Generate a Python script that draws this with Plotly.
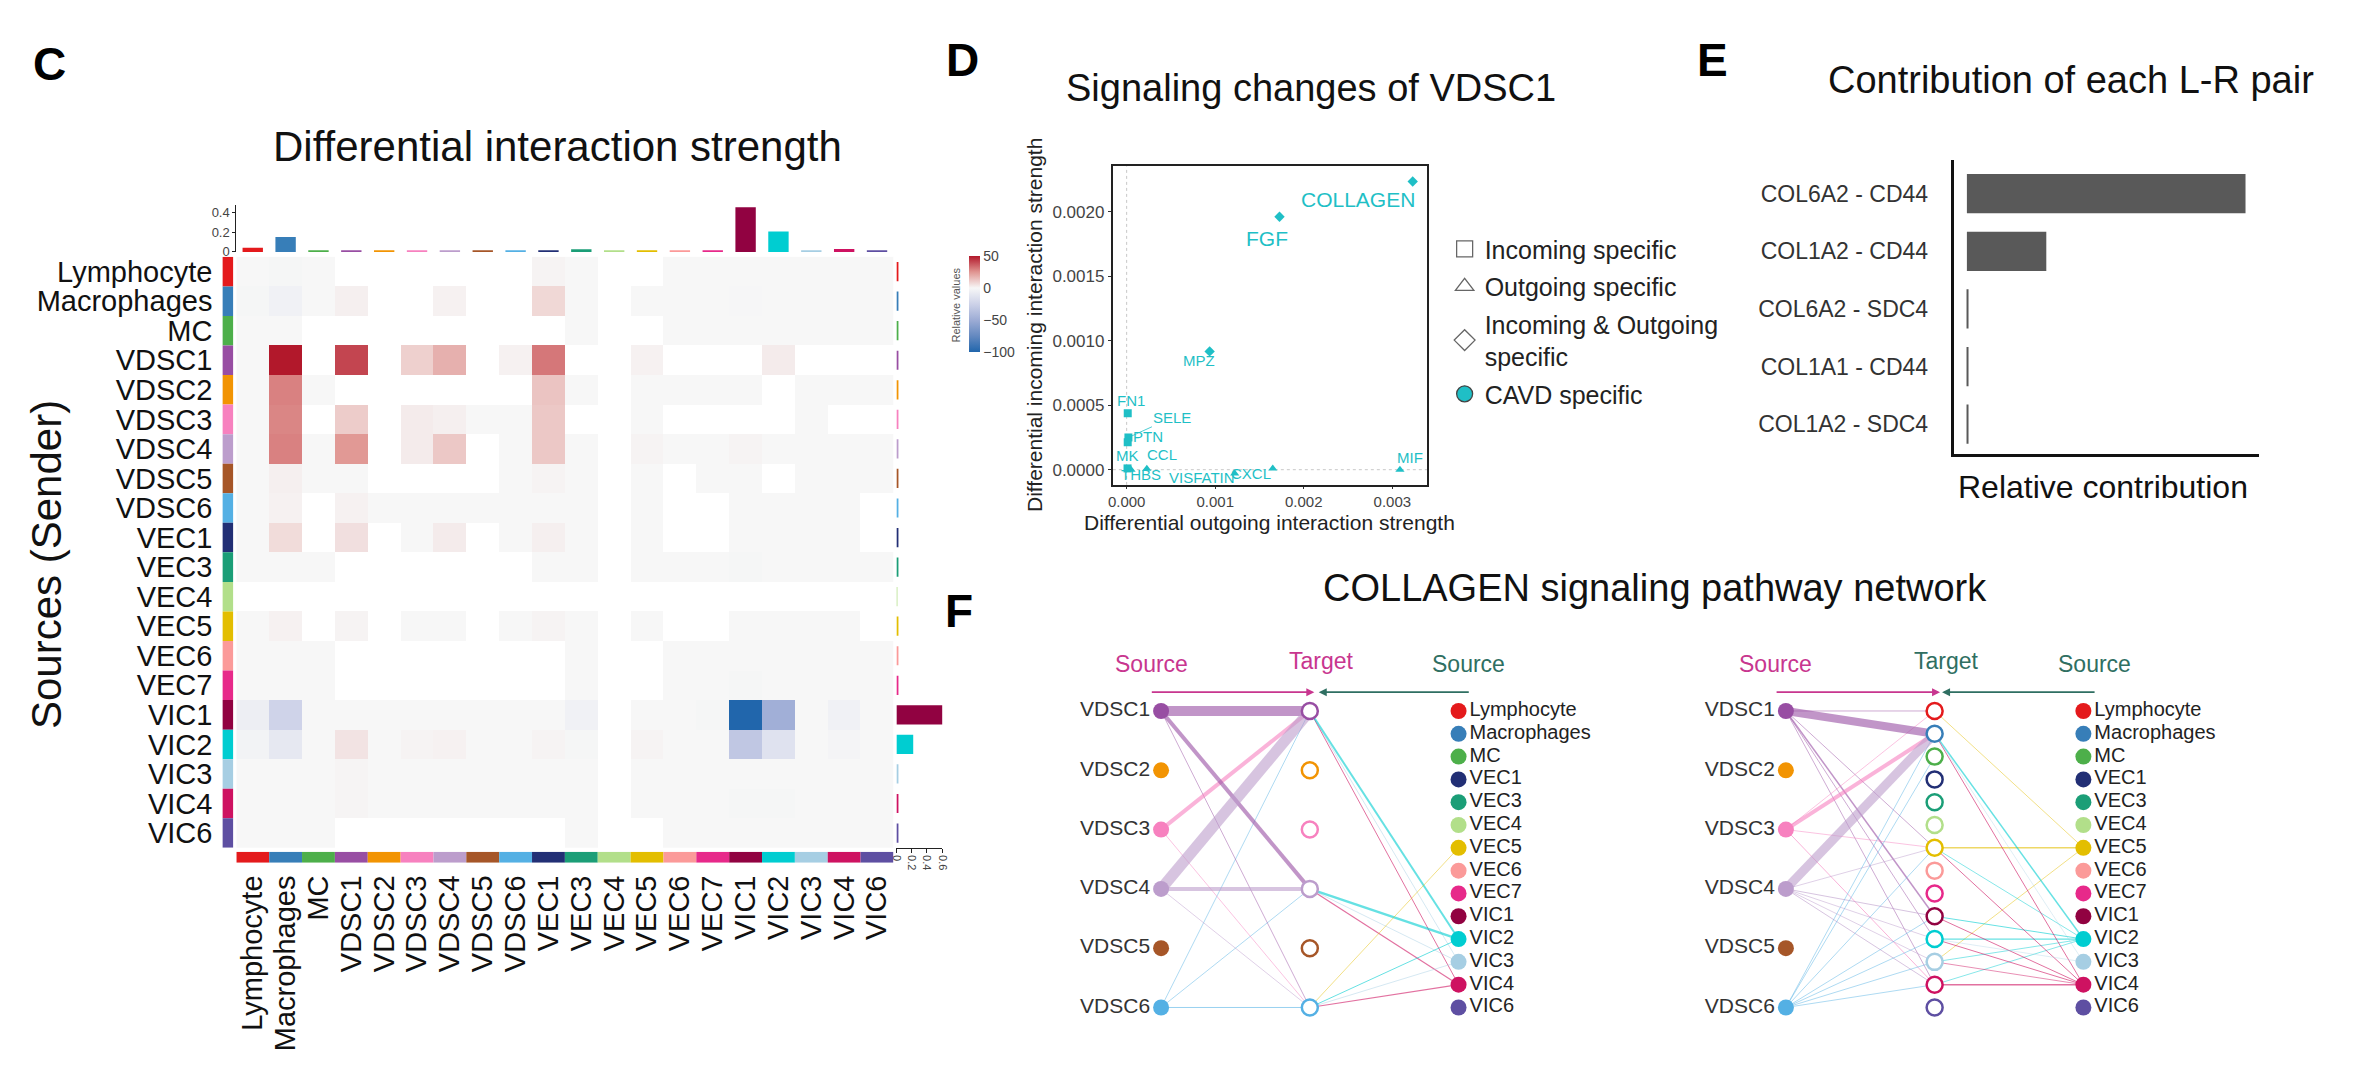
import plotly.graph_objects as go

W, H = 2354, 1072
FONT = "Liberation Sans, Arial, Helvetica, sans-serif"

# ---------------- data ----------------
cell_types = ["Lymphocyte", "Macrophages", "MC", "VDSC1", "VDSC2", "VDSC3", "VDSC4", "VDSC5",
              "VDSC6", "VEC1", "VEC3", "VEC4", "VEC5", "VEC6", "VEC7", "VIC1", "VIC2", "VIC3",
              "VIC4", "VIC6"]
cell_colors = ["#E41A1C", "#377EB8", "#4DAF4A", "#984EA3", "#F29403", "#F781BF", "#BC9DCC",
               "#A65628", "#54B0E4", "#222F75", "#1B9E77", "#B2DF8A", "#E3BE00", "#FB9A99",
               "#E7298A", "#910241", "#00CDD1", "#A6CEE3", "#CE1261", "#5E4FA2"]

N = None
g = 0.0
heat_values = [
    [g, -1, g, N, N, N, N, N, N, 1, g, N, N, g, g, g, g, g, g, g],
    [-1, -4, g, 2, N, N, 1.5, N, N, 8, g, N, g, g, g, -0.5, g, g, g, g],
    [g, g, N, N, N, N, N, N, N, N, g, N, N, g, g, g, g, g, g, g],
    [g, 50, N, 41, N, 10, 18, N, 1.5, 31, N, N, 1.5, N, N, N, 3, N, N, N],
    [g, 29, g, N, N, N, N, N, N, 13, g, N, g, g, g, g, N, g, g, g],
    [g, 28, N, 11, N, 3, 2, g, g, 12, N, N, g, N, N, N, N, g, N, N],
    [g, 29, g, 24, N, 3, 12, N, g, 12, g, N, 1, g, g, 1, g, g, g, g],
    [g, 2, g, g, N, N, N, N, g, 1, g, N, g, N, g, g, N, g, g, g],
    [g, 1.5, N, 1.5, g, g, g, g, g, g, g, N, g, N, N, g, g, g, g, N],
    [g, 7, N, 6, N, g, 3, N, g, 2, g, N, g, N, N, g, g, g, g, N],
    [g, g, g, N, N, N, N, N, N, g, g, N, g, g, g, -1, g, g, g, g],
    [N, N, N, N, N, N, N, N, N, N, N, N, N, N, N, N, N, N, N, N],
    [g, 1.5, N, 1, N, g, g, N, g, 1, g, N, g, N, N, g, g, g, g, N],
    [g, g, g, N, N, N, N, N, N, N, g, N, N, g, g, g, g, g, g, g],
    [g, g, g, N, N, N, N, N, N, N, g, N, N, g, g, -1, g, g, g, g],
    [-6, -24, g, g, g, g, g, g, g, g, -4, N, g, g, -1, -100, -48, g, -4, g],
    [-3, -10, g, 5, g, 1, 1.5, g, g, 1, -1, N, 1, g, g, -32, -14, g, -2, g],
    [g, g, g, 0.8, g, g, g, g, g, g, g, N, g, g, g, g, g, g, g, g],
    [g, g, g, 0.8, g, g, g, g, g, g, g, N, g, g, g, -1, -1, g, g, g],
    [g, g, g, N, N, N, N, N, N, N, g, N, N, g, g, g, g, g, g, g],
]
col_sums = [0.042, 0.15, 0.016, 0.015, 0.012, 0.012, 0.012, 0.012, 0.012, 0.014, 0.026, 0.010,
            0.010, 0.010, 0.012, 0.45, 0.205, 0.008, 0.030, 0.012]
row_sums = [0.02, 0.02, 0.015, 0.015, 0.015, 0.015, 0.015, 0.015, 0.015, 0.015, 0.015, 0.01,
            0.015, 0.015, 0.015, 0.63, 0.22, 0.015, 0.015, 0.015]

# panel D
pathways = ["COLLAGEN", "FGF", "MPZ", "FN1", "SELE", "PTN", "MK", "CCL", "THBS", "VISFATIN",
            "CXCL", "MIF"]
out_strength = [0.00323, 0.001726, 0.000937, 0.0000124, 0.00002, 0.000012, 0.00001, 0.000228,
                0.00005, 0.00122, 0.00165, 0.003086]
in_strength = [0.002236, 0.001962, 0.000918, 0.000438, 0.00025, 0.000213, 0.00001, 0.0000077,
               0.0, -0.00003, 0.00001, 0.0]
specificity = ["both", "both", "both", "in", "in", "in", "in", "out", "out", "out", "out", "out"]

# panel E
lr_pairs = ["COL6A2 - CD44", "COL1A2 - CD44", "COL6A2 - SDC4", "COL1A1 - CD44", "COL1A2 - SDC4"]
lr_contrib = [1.0, 0.285, 0.004, 0.003, 0.003]

# panel F
vdsc = ["VDSC1", "VDSC2", "VDSC3", "VDSC4", "VDSC5", "VDSC6"]
others = ["Lymphocyte", "Macrophages", "MC", "VEC1", "VEC3", "VEC4", "VEC5", "VEC6", "VEC7",
          "VIC1", "VIC2", "VIC3", "VIC4", "VIC6"]
# left network: VDSC -> VDSC, and others -> VDSC
netA_left = [("VDSC6", "VDSC1", 0.8), ("VDSC6", "VDSC4", 0.8), ("VDSC6", "VDSC6", 1.0),
             ("VDSC1", "VDSC6", 0.8), ("VDSC3", "VDSC6", 0.8), ("VDSC4", "VDSC6", 0.8),
             ("VDSC3", "VDSC1", 4.0), ("VDSC1", "VDSC4", 4.0), ("VDSC4", "VDSC4", 4.0),
             ("VDSC1", "VDSC1", 10.0), ("VDSC4", "VDSC1", 11.0)]
netA_right = [("VIC3", "VDSC1", 0.8), ("VIC4", "VDSC1", 1.0), ("VIC2", "VDSC1", 2.0),
              ("VIC3", "VDSC4", 0.8), ("VIC4", "VDSC4", 1.2), ("VIC2", "VDSC4", 2.5),
              ("VEC5", "VDSC6", 0.8), ("VIC2", "VDSC6", 1.0), ("VIC4", "VDSC6", 1.2),
              ("VIC3", "VDSC6", 0.8)]
# right network: VDSC -> others, and others -> others
netB_left = [("VDSC1", "Lymphocyte", 0.8), ("VDSC1", "VIC1", 1.5), ("VDSC1", "VEC5", 0.8),
             ("VDSC1", "VIC2", 0.8), ("VDSC1", "VIC4", 0.8), ("VDSC3", "Lymphocyte", 0.8),
             ("VDSC3", "VEC5", 0.8), ("VDSC3", "VIC4", 1.0), ("VDSC4", "VEC5", 0.8),
             ("VDSC4", "VIC1", 1.0), ("VDSC4", "VIC2", 0.8), ("VDSC4", "VIC3", 0.8),
             ("VDSC4", "VIC4", 1.0), ("VDSC6", "Macrophages", 0.8), ("VDSC6", "MC", 0.8),
             ("VDSC6", "VEC5", 0.8), ("VDSC6", "VIC1", 0.8), ("VDSC6", "VIC2", 0.8),
             ("VDSC6", "VIC3", 0.8), ("VDSC6", "VIC4", 0.8), ("VDSC3", "Macrophages", 4.0),
             ("VDSC1", "Macrophages", 8.0), ("VDSC4", "Macrophages", 9.0)]
netB_right = [("VEC5", "Lymphocyte", 0.8), ("VEC5", "VEC5", 1.5), ("VEC5", "VIC3", 0.8),
              ("VIC2", "Macrophages", 1.5), ("VIC2", "VEC5", 0.8), ("VIC2", "VIC1", 1.0),
              ("VIC2", "VIC2", 1.2), ("VIC2", "VIC3", 0.8), ("VIC2", "VIC4", 0.8),
              ("VIC4", "Macrophages", 1.0), ("VIC4", "VEC5", 1.0), ("VIC4", "VIC1", 1.0),
              ("VIC4", "VIC2", 1.0), ("VIC4", "VIC3", 0.8), ("VIC4", "VIC4", 1.5),
              ("VIC3", "Macrophages", 0.6), ("VIC3", "VIC2", 0.6)]

# ---------------- helpers ----------------
color_of = dict(zip(cell_types, cell_colors))


def dom_x(a, b):
    return [a / W, b / W]


def dom_y(t, b):
    return [1 - b / H, 1 - t / H]


def rgba(hexc, a):
    hexc = hexc.lstrip("#")
    r, gg, b = int(hexc[0:2], 16), int(hexc[2:4], 16), int(hexc[4:6], 16)
    return f"rgba({r},{gg},{b},{a})"


def base_axis(domain, **kw):
    d = dict(domain=domain, showgrid=False, zeroline=False, showticklabels=False, ticks="",
             showline=False, fixedrange=True)
    d.update(kw)
    return d


annotations = []
shapes = []


def text_at(txt, x, y, size, color="#111", angle=0, bold=False):
    annotations.append(dict(text=f"<b>{txt}</b>" if bold else txt, x=x / W, y=1 - y / H,
                            xref="paper", yref="paper", xanchor="center", yanchor="middle",
                            showarrow=False, textangle=angle,
                            font=dict(size=size, color=color, family=FONT)))


fig = go.Figure()

# ---------------- Panel C ----------------
HX0, HX1 = 231.5, 892.0
HY0, HY1 = 258.0, 854.0
colorscale = [[0.0, "#2166AC"], [1 / 6, "#6489C0"], [2 / 6, "#9DACD5"], [3 / 6, "#CDD2E8"],
              [4 / 6, "#F7F7F7"], [5 / 6, "#E09591"], [1.0, "#B2182B"]]
fig.add_trace(go.Heatmap(
    z=heat_values, x=cell_types, y=cell_types, colorscale=colorscale, zmin=-100, zmax=50,
    xaxis="x", yaxis="y", hoverongaps=False, xgap=0, ygap=0,
    colorbar=dict(x=968 / W, xanchor="left", y=1 - 306 / H, yanchor="middle", len=96,
                  lenmode="pixels", thickness=11, thicknessmode="pixels", outlinewidth=0,
                  tickvals=[50, 0, -50, -100], ticks="", xpad=0, ypad=0,
                  tickfont=dict(size=14, color="#444", family=FONT))))
fig.add_trace(go.Bar(x=cell_types, y=col_sums, marker=dict(color=cell_colors, line=dict(width=0)),
                     width=0.62, xaxis="x2", yaxis="y2", showlegend=False))
fig.add_trace(go.Bar(y=cell_types, x=row_sums, orientation="h",
                     marker=dict(color=cell_colors, line=dict(width=0)),
                     width=0.65, xaxis="x3", yaxis="y3", showlegend=False))
fig.add_trace(go.Bar(y=cell_types, x=[1] * len(cell_types), orientation="h",
                     marker=dict(color=cell_colors, line=dict(width=0)),
                     width=1, xaxis="x4", yaxis="y4", showlegend=False))
fig.add_trace(go.Bar(x=cell_types, y=[1] * len(cell_types),
                     marker=dict(color=cell_colors, line=dict(width=0)),
                     width=1, xaxis="x5", yaxis="y5", showlegend=False))

cat_range = [-0.5, len(cell_types) - 0.5]
cat_range_rev = [len(cell_types) - 0.5, -0.5]
layout_axes = {}
layout_axes["xaxis"] = base_axis(dom_x(HX0, HX1), anchor="y", type="category", range=cat_range)
layout_axes["yaxis"] = base_axis(dom_y(HY0, HY1), anchor="x", type="category", range=cat_range_rev)
layout_axes["xaxis2"] = base_axis(dom_x(HX0, HX1), anchor="y2", type="category", range=cat_range)
layout_axes["yaxis2"] = base_axis(
    dom_y(206, 253), anchor="x2", range=[0, 0.47], showline=True, linecolor="#222", linewidth=1,
    ticks="outside", ticklen=3, tickcolor="#222", tickvals=[0, 0.2, 0.4],
    ticktext=["0", "0.2", "0.4"], showticklabels=True,
    tickfont=dict(size=13, color="#444", family=FONT))
layout_axes["xaxis3"] = base_axis(
    dom_x(895, 941), anchor="y3", range=[0, 0.6], showline=True, linecolor="#222", linewidth=1,
    ticks="outside", ticklen=4, tickcolor="#222", tickvals=[0, 0.2, 0.4, 0.6],
    ticktext=["0", "0.2", "0.4", "0.6"], showticklabels=True, tickangle=90, side="bottom",
    tickfont=dict(size=11, color="#444", family=FONT))
layout_axes["yaxis3"] = base_axis(dom_y(HY0, HY1), anchor="x3", type="category", range=cat_range_rev)
layout_axes["xaxis4"] = base_axis(dom_x(217.5, 228.5), anchor="y4", range=[0, 1])
layout_axes["yaxis4"] = base_axis(
    dom_y(HY0, HY1), anchor="x4", type="category", range=cat_range_rev, showticklabels=True,
    tickmode="array", tickvals=cell_types, ticktext=cell_types,
    ticklabelstandoff=9, tickfont=dict(size=29, color="#111", family=FONT))
layout_axes["xaxis5"] = base_axis(
    dom_x(HX0, HX1), anchor="y5", type="category", range=cat_range, showticklabels=True,
    tickmode="array", tickvals=cell_types, ticktext=cell_types,
    tickangle=-90, ticklabelstandoff=6, tickfont=dict(size=29, color="#111", family=FONT))
layout_axes["yaxis5"] = base_axis(dom_y(858, 869), anchor="x5", range=[0, 1])

text_at("Differential interaction strength", 554, 147, 42)
text_at("Sources (Sender)", 40, 568, 42, angle=-90)
text_at("Relative values", 955, 307, 11, color="#555", angle=-90)

# ---------------- Panel D ----------------
CYAN = "#1FBFC6"
sym_map = {"in": "square", "out": "triangle-up", "both": "diamond"}
for spec in ["in", "out", "both"]:
    idx = [i for i, s in enumerate(specificity) if s == spec]
    fig.add_trace(go.Scatter(
        x=[out_strength[i] for i in idx], y=[in_strength[i] for i in idx], mode="markers",
        marker=dict(symbol=sym_map[spec], size=8, color=CYAN, line=dict(width=0)),
        xaxis="x6", yaxis="y6", showlegend=False, cliponaxis=False))

layout_axes["xaxis6"] = base_axis(
    dom_x(1112.5, 1428.6), anchor="y6", range=[-0.000156, 0.003395], showline=True, mirror=True,
    linecolor="#222", linewidth=2, ticks="outside", ticklen=2, tickcolor="#333",
    tickvals=[0, 0.001, 0.002, 0.003], tickformat=".3f", showticklabels=True,
    tickfont=dict(size=15, color="#444", family=FONT))
layout_axes["yaxis6"] = base_axis(
    dom_y(166.7, 488), anchor="x6", range=[-0.000118, 0.002354], showline=True, mirror=True,
    linecolor="#222", linewidth=2, ticks="outside", ticklen=3, tickcolor="#333",
    tickvals=[0, 0.0005, 0.001, 0.0015, 0.002], tickformat=".4f", showticklabels=True,
    tickfont=dict(size=17, color="#444", family=FONT))
shapes.append(dict(type="line", xref="x6", yref="y6 domain", x0=0, x1=0, y0=0, y1=1,
                   line=dict(color="#C8C8C8", width=1, dash="dot"), layer="below"))
shapes.append(dict(type="line", xref="x6 domain", yref="y6", x0=0, x1=1, y0=0, y1=0,
                   line=dict(color="#C8C8C8", width=1, dash="dot"), layer="below"))

label_offsets = {"COLLAGEN": (-55, 18), "FGF": (-13, 22), "MPZ": (-11, 9), "FN1": (3, -13),
                 "SELE": (44, -20), "PTN": (20, -6), "MK": (0, -13), "CCL": (15, -14),
                 "THBS": (10, 5), "VISFATIN": (-33, 4), "CXCL": (-22, 5), "MIF": (10, -12)}
big_labels = {"COLLAGEN", "FGF"}
for name, xv, yv in zip(pathways, out_strength, in_strength):
    dx, dy = label_offsets[name]
    fs = 21 if name in big_labels else 15
    if name == "SELE":
        annotations.append(dict(text=name, x=xv, y=yv, xref="x6", yref="y6", showarrow=True,
                                ax=dx, ay=dy, arrowhead=0, arrowwidth=0.8, arrowcolor=CYAN,
                                font=dict(size=fs, color=CYAN, family=FONT)))
    else:
        annotations.append(dict(text=name, x=xv, y=yv, xref="x6", yref="y6", showarrow=False,
                                xanchor="center", yanchor="middle", xshift=dx, yshift=-dy,
                                font=dict(size=fs, color=CYAN, family=FONT)))

text_at("Signaling changes of VDSC1", 1312, 88, 38)
text_at("Differential outgoing interaction strength", 1270, 526, 21, color="#222")
text_at("Differential incoming interaction strength", 1034, 327, 21, color="#222", angle=-90)

legend_items = [("Incoming specific", "square-open", "#666"),
                ("Outgoing specific", "triangle-up-open", "#666"),
                ("Incoming & Outgoing<br>specific", "diamond-open", "#666"),
                ("CAVD specific", "circle", CYAN)]
for i, (nm, sym, col) in enumerate(legend_items):
    fig.add_trace(go.Scatter(x=[None], y=[None], mode="markers", name=nm, legendgroup=f"g{i}",
                             marker=dict(symbol=sym, size=18, color=col, line=dict(width=1.3)),
                             xaxis="x6", yaxis="y6", showlegend=True))

# ---------------- Panel E ----------------
fig.add_trace(go.Bar(y=lr_pairs, x=lr_contrib, orientation="h", width=0.68,
                     marker=dict(color="#595959", line=dict(width=0)),
                     xaxis="x7", yaxis="y7", showlegend=False))
layout_axes["xaxis7"] = base_axis(dom_x(1957.5, 2265), anchor="y7", range=[-0.048, 1.05],
                                  showline=True, linecolor="#111", linewidth=2.5)
layout_axes["yaxis7"] = base_axis(
    dom_y(160, 457), anchor="x7", type="category", range=[4.52, -0.59], showline=True,
    linecolor="#111", linewidth=2.5, showticklabels=True, ticklabelstandoff=18,
    tickmode="array", tickvals=lr_pairs, ticktext=lr_pairs,
    tickfont=dict(size=23, color="#333", family=FONT))
text_at("Contribution of each L-R pair", 2076, 80, 38)
text_at("Relative contribution", 2108, 490, 32)

# ---------------- Panel F ----------------
YR = [1.0836, -0.2207]


def draw_network(xa, ya, left_nodes, mid_nodes, right_nodes, edges_left, edges_right):
    ly = {n: i / (len(left_nodes) - 1) for i, n in enumerate(left_nodes)}
    my = {n: i / (len(mid_nodes) - 1) for i, n in enumerate(mid_nodes)}
    ry = {n: i / (len(right_nodes) - 1) for i, n in enumerate(right_nodes)}
    for s, t, w in edges_left:
        fig.add_trace(go.Scatter(x=[0, 1], y=[ly[s], my[t]], mode="lines",
                                 line=dict(color=rgba(color_of[s], 0.6), width=w),
                                 xaxis=xa, yaxis=ya, showlegend=False, hoverinfo="skip"))
    for s, t, w in edges_right:
        fig.add_trace(go.Scatter(x=[2, 1], y=[ry[s], my[t]], mode="lines",
                                 line=dict(color=rgba(color_of[s], 0.6), width=w),
                                 xaxis=xa, yaxis=ya, showlegend=False, hoverinfo="skip"))
    fig.add_trace(go.Scatter(
        x=[0] * len(left_nodes), y=[ly[n] for n in left_nodes], mode="markers+text",
        text=left_nodes, textposition="middle left", cliponaxis=False,
        textfont=dict(size=21, color="#333", family=FONT),
        marker=dict(size=16, color=[color_of[n] for n in left_nodes], line=dict(width=0)),
        xaxis=xa, yaxis=ya, showlegend=False))
    fig.add_trace(go.Scatter(
        x=[1] * len(mid_nodes), y=[my[n] for n in mid_nodes], mode="markers", cliponaxis=False,
        marker=dict(size=16, color="white",
                    line=dict(width=2.5, color=[color_of[n] for n in mid_nodes])),
        xaxis=xa, yaxis=ya, showlegend=False))
    fig.add_trace(go.Scatter(
        x=[2] * len(right_nodes), y=[ry[n] for n in right_nodes], mode="markers+text",
        text=right_nodes, textposition="middle right", cliponaxis=False,
        textfont=dict(size=20, color="#222", family=FONT),
        marker=dict(size=16, color=[color_of[n] for n in right_nodes], line=dict(width=0)),
        xaxis=xa, yaxis=ya, showlegend=False))


draw_network("x8", "y8", vdsc, vdsc, others, netA_left, netA_right)
draw_network("x9", "y9", vdsc, others, others, netB_left, netB_right)
layout_axes["xaxis8"] = base_axis(dom_x(1061, 1560), anchor="y8", range=[-0.6689, 2.6689])
layout_axes["yaxis8"] = base_axis(dom_y(650, 1040), anchor="x8", range=YR)
layout_axes["xaxis9"] = base_axis(dom_x(1689, 2200), anchor="y9", range=[-0.6689, 2.749])
layout_axes["yaxis9"] = base_axis(dom_y(650, 1040), anchor="x9", range=YR)

MAG = "#C8368F"
TEAL = "#2F6F62"
headers = [("Source", 1151, 669, MAG), ("Target", 1322, 666, MAG), ("Source", 1470, 669, TEAL),
           ("Source", 1779, 669, MAG), ("Target", 1950, 666, TEAL), ("Source", 2099, 669, TEAL)]
for txt, hx, hy, col in headers:
    text_at(txt, hx, hy, 23, color=col)
arrows = [(1151, 1315, MAG), (1471, 1319.5, TEAL), (1779, 1944, MAG), (2100, 1946, TEAL)]
for tail, head, col in arrows:
    annotations.append(dict(text="", x=head / W, y=1 - 697 / H, xref="paper",
                            yref="paper", showarrow=True, ax=tail - head, ay=0, arrowhead=2,
                            arrowsize=1, arrowwidth=1.6, arrowcolor=col, standoff=0))
text_at("COLLAGEN signaling pathway network", 1657, 592, 38)

# panel letters
for letter, lx, ly in [("C", 44, 64), ("D", 961, 60), ("E", 1715, 60), ("F", 958, 615)]:
    text_at(letter, lx, ly, 46, color="#000", bold=True)

fig.update_layout(
    width=W, height=H, autosize=False, margin=dict(l=0, r=0, t=0, b=0, pad=0),
    paper_bgcolor="white", plot_bgcolor="white", font=dict(family=FONT, color="#111"),
    barmode="overlay", annotations=annotations, shapes=shapes, showlegend=True,
    legend=dict(x=1446 / W, y=1 - 227 / H, xanchor="left", yanchor="top",
                font=dict(size=25, color="#222", family=FONT), bgcolor="rgba(0,0,0,0)",
                tracegroupgap=2, itemsizing="trace"),
    **layout_axes)

fig.write_html("out.html", config={"displayModeBar": False},
               post_script="document.body.style.margin='0';")
